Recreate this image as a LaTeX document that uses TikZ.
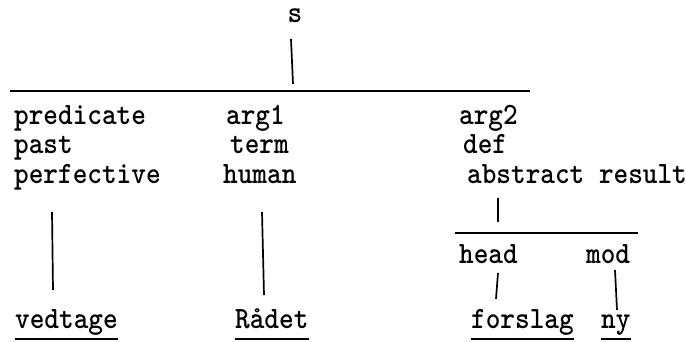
\documentclass[tikz,border=0pt]{standalone}
\usepackage{tikz}

\tikzset{
  lbl/.style={font=\fontsize{31}{34}\selectfont\ttfamily\bfseries, inner sep=0pt,
    anchor=base west, xscale=0.9, transform shape},
  bar/.style={line width=2.8pt},
  twig/.style={line width=1.7pt},
  uline/.style={line width=2.4pt}
}

\begin{document}
\begin{tikzpicture}[x=1pt,y=-1pt]
    \useasboundingbox (0,0) rectangle (686,342);
    % root and main bar
    \node[lbl,anchor=base] (s) at (295,23) {s};
    \coordinate (stop) at (291,39);
    \coordinate (sfoot) at (293,84);
    \draw[twig] (stop) -- (sfoot);
    \coordinate (barL) at (10,91);
    \coordinate (barR) at (530,91);
    \draw[bar] (barL) -- (barR);
    % first column
    \node[lbl] (pred) at (14,125) {predicate};
    \node[lbl] (past) at (14,154) {past};
    \node[lbl] (perf) at (14,184) {perfective};
    % second column
    \node[lbl] (argA) at (226,125) {arg1};
    \node[lbl] (term) at (230,154) {term};
    \node[lbl] (hum) at (223,184) {human};
    % third column
    \node[lbl] (argB) at (459,125) {arg2};
    \node[lbl] (def) at (463,154) {def};
    \node[lbl] (abs) at (467,184) {abstract result};
    % sub bar under arg2
    \coordinate (abstop) at (498,198);
    \coordinate (absfoot) at (498,222);
    \draw[twig] (abstop) -- (absfoot);
    \coordinate (subL) at (455,233);
    \coordinate (subR) at (638,233);
    \draw[bar] (subL) -- (subR);
    \node[lbl] (head) at (459,263) {head};
    \node[lbl] (mod) at (586,263) {mod};
    % words
    \node[lbl] (ved) at (15,328) {vedtage};
    \node[lbl] (raad) at (235,328) {Rådet};
    \node[lbl] (fors) at (471,328) {forslag};
    \node[lbl] (ny) at (601,328) {ny};
    \draw[twig] (52,212) -- (53,290);
    \draw[twig] (262,212) -- (264,295);
    \draw[twig] (498,273) -- (496,299);
    \draw[twig] (615,270) -- (617,310);
    \foreach \w in {ved,raad,fors,ny}
      \draw[uline] ([yshift=-11pt]\w.base west) -- ([yshift=-11pt]\w.base east);
\end{tikzpicture}
\end{document}
